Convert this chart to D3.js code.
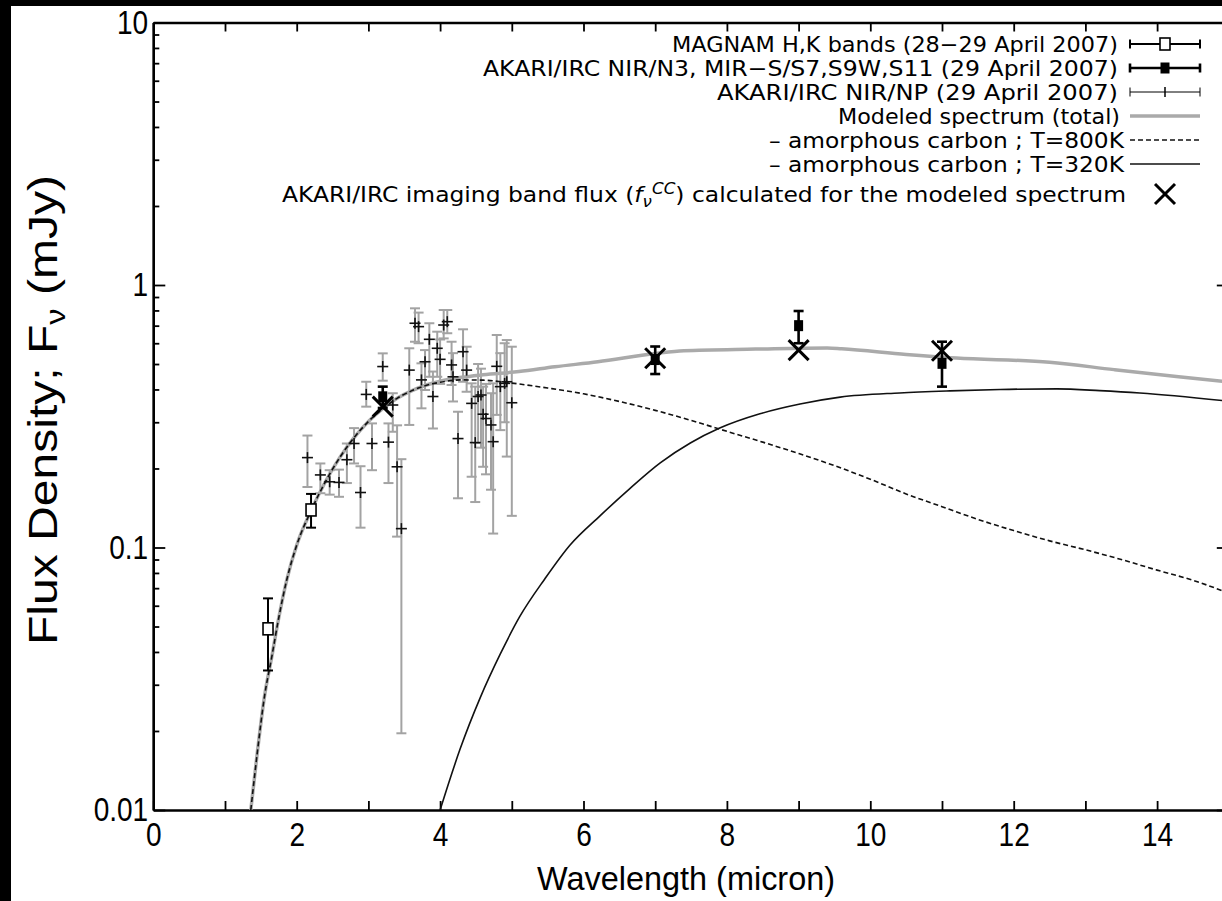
<!DOCTYPE html>
<html><head><meta charset="utf-8">
<script src="https://cdnjs.cloudflare.com/ajax/libs/d3/7.8.5/d3.min.js"></script>
<style>
html,body{margin:0;padding:0;background:#000;}
svg{display:block;}
</style></head>
<body>
<svg id="chart" width="1222" height="901"></svg>
<script>
// ---------- DATA ----------
const xTickValues = [0,1,2,3,4,5,6,7,8,9,10,11,12,13,14,15];
const xTickLabels = ["0","","2","","4","","6","","8","","10","","12","","14",""];
const yMajorTicks = [0.01, 0.1, 1, 10];
const yMajorLabels = ["0.01", "0.1", "1", "10"];

// AKARI/IRC NIR/NP spectroscopy (crosses with grey error bars)
const npLambda = [2.15,2.33,2.46,2.59,2.70,2.80,2.89,2.97,3.05,3.20,3.28,3.34,3.40,3.46,3.57,3.65,3.70,3.74,3.79,3.85,3.90,3.96,4.00,4.05,4.10,4.16,4.18,4.25,4.32,4.37,4.44,4.49,4.53,4.57,4.60,4.64,4.71,4.74,4.79,4.84,4.90,4.93,5.00];
const npFlux   = [0.220,0.189,0.178,0.177,0.216,0.249,0.162,0.383,0.249,0.489,0.252,0.349,0.203,0.118,0.474,0.715,0.694,0.435,0.510,0.621,0.376,0.574,0.521,0.704,0.725,0.496,0.447,0.260,0.557,0.474,0.354,0.251,0.376,0.381,0.322,0.310,0.293,0.253,0.490,0.410,0.422,0.428,0.356];
const npLo     = [0.170,0.161,0.159,0.156,0.176,0.209,0.119,0.344,0.197,0.432,0.176,0.276,0.110,0.0196,0.293,0.608,0.600,0.339,0.398,0.447,0.284,0.447,0.420,0.626,0.655,0.416,0.360,0.154,0.428,0.392,0.186,0.149,0.250,0.240,0.203,0.190,0.166,0.113,0.320,0.280,0.300,0.222,0.132];
const npHi     = [0.267,0.209,0.197,0.198,0.249,0.285,0.204,0.428,0.297,0.549,0.297,0.387,0.292,0.217,0.574,0.815,0.785,0.503,0.565,0.715,0.468,0.664,0.620,0.803,0.803,0.608,0.550,0.329,0.678,0.582,0.422,0.410,0.500,0.480,0.410,0.420,0.387,0.422,0.645,0.550,0.600,0.617,0.582];

// MAGNAM H,K bands (open squares)
const magLambda = [1.6, 2.2];
const magFlux   = [0.049, 0.139];
const magLo     = [0.034, 0.119];
const magHi     = [0.064, 0.160];

// AKARI/IRC imaging N3, S7, S9W, S11 (filled squares)
const akLambda = [3.2, 7.0, 9.0, 11.0];
const akFlux   = [0.375, 0.520, 0.700, 0.503];
const akLo     = [0.340, 0.458, 0.600, 0.410];
const akHi     = [0.410, 0.583, 0.796, 0.608];

// Colour-corrected model band fluxes (X marks)
const ccLambda = [3.2, 7.0, 9.0, 11.0];
const ccFlux   = [0.344, 0.526, 0.565, 0.562];

// Modeled spectrum (total)
const totLambda = [1.36,1.45,1.55,1.65,1.75,1.86,2.0,2.2,2.4,2.6,2.8,3.0,3.2,3.4,3.6,3.8,4.0,4.3,4.6,5.1,5.6,6.2,7.0,7.4,8.4,9.4,9.6,10.5,11.2,12.5,13.4,14.3,15.0];
const totFlux   = [0.010,0.0165,0.027,0.038,0.054,0.075,0.102,0.138,0.178,0.220,0.262,0.302,0.338,0.370,0.395,0.415,0.430,0.445,0.455,0.468,0.488,0.510,0.548,0.562,0.570,0.576,0.572,0.544,0.527,0.508,0.476,0.447,0.427];

// amorphous carbon T=800K
const c800Lambda = [1.36,1.45,1.55,1.65,1.75,1.86,2.0,2.2,2.4,2.6,2.8,3.0,3.2,3.4,3.6,3.8,4.0,4.3,4.6,5.0,5.5,6.0,6.5,7.0,7.5,8.0,8.5,9.0,9.5,10.0,10.5,11.0,11.5,12.0,12.5,13.0,13.5,14.0,14.5,15.0];
const c800Flux   = [0.010,0.0165,0.027,0.038,0.054,0.075,0.102,0.138,0.178,0.220,0.262,0.302,0.338,0.370,0.395,0.414,0.426,0.435,0.434,0.423,0.405,0.385,0.360,0.333,0.305,0.277,0.252,0.228,0.205,0.182,0.160,0.143,0.128,0.116,0.106,0.098,0.090,0.082,0.075,0.067];

// amorphous carbon T=320K
const c320Lambda = [4.0,4.28,4.56,4.84,5.11,5.46,5.81,6.23,6.65,7.07,7.49,7.9,8.46,9.02,9.58,10.41,11.11,11.81,12.6,13.2,13.76,15.0];
const c320Flux   = [0.010,0.0171,0.0268,0.0393,0.0545,0.0759,0.102,0.132,0.168,0.210,0.250,0.285,0.323,0.352,0.374,0.388,0.395,0.400,0.402,0.396,0.388,0.361];

const legendLabels = [
  "MAGNAM H,K bands (28\u221229 April 2007)",
  "AKARI/IRC NIR/N3, MIR\u2212S/S7,S9W,S11 (29 April 2007)",
  "AKARI/IRC NIR/NP (29 April 2007)",
  "Modeled spectrum (total)",
  "\u2013 amorphous carbon ; T=800K",
  "\u2013 amorphous carbon ; T=320K"
];

// ---------- LAYOUT ----------
const L = 153.3, R = 1228.8, T = 22.5, B = 810;
const svg = d3.select("#chart");
svg.append("rect").attr("x",11).attr("y",6).attr("width",1222).attr("height",901).attr("fill","#fff");

const x = d3.scaleLinear().domain([0,15]).range([L,R]);
const y = d3.scaleLog().domain([0.01,10]).range([B,T]);

const FONT = "'Liberation Sans', Arial, sans-serif";
const LFONT = "'DejaVu Sans', sans-serif";

const yMinor = [];
[0.01,0.1,1].forEach(d => { for (let k=2;k<=9;k++) yMinor.push(+(d*k).toPrecision(3)); });

svg.append("clipPath").attr("id","plotclip").append("rect")
  .attr("x",L).attr("y",T).attr("width",R-L).attr("height",B-T);

// ---------- AXES ----------
function styleAxis(g){
  g.selectAll("path.domain").attr("stroke","#000").attr("stroke-width",2.4);
  g.selectAll(".tick line").attr("stroke","#000").attr("stroke-width",1.8);
  g.selectAll(".tick text").attr("fill","#000").style("font-family",FONT).style("font-size","33px")
    .attr("transform","scale(0.85,1)");
}
const xAxis = d3.axisBottom(x).tickValues(xTickValues)
  .tickFormat((d,i)=>xTickLabels[i]).tickSize(-9).tickSizeOuter(0).tickPadding(13);
svg.append("g").attr("transform",`translate(0,${B})`).call(xAxis).call(styleAxis);
svg.append("g").attr("transform",`translate(0,${T})`)
  .call(d3.axisTop(x).tickValues(xTickValues).tickFormat("").tickSize(-9).tickSizeOuter(0)).call(styleAxis);

svg.append("g").attr("transform",`translate(${L},0)`)
  .call(d3.axisLeft(y).tickValues(yMajorTicks).tickFormat((d,i)=>yMajorLabels[i]).tickSize(-12).tickSizeOuter(0).tickPadding(6))
  .call(styleAxis);
svg.append("g").attr("transform",`translate(${L},0)`)
  .call(d3.axisLeft(y).tickValues(yMinor).tickFormat("").tickSize(-6).tickSizeOuter(0)).call(styleAxis);
svg.append("g").attr("transform",`translate(${R},0)`)
  .call(d3.axisRight(y).tickValues(yMajorTicks).tickFormat("").tickSize(-12).tickSizeOuter(0)).call(styleAxis);
svg.append("g").attr("transform",`translate(${R},0)`)
  .call(d3.axisRight(y).tickValues(yMinor).tickFormat("").tickSize(-6).tickSizeOuter(0)).call(styleAxis);

// titles
svg.append("text").attr("x",(L+R)/2 - 5).attr("y",890).attr("text-anchor","middle")
  .attr("textLength",298).attr("lengthAdjust","spacingAndGlyphs")
  .style("font-family",FONT).style("font-size","34px").text("Wavelength (micron)");
const yt = svg.append("text").attr("transform","translate(57,410) rotate(-90)").attr("text-anchor","middle")
  .attr("textLength",470).attr("lengthAdjust","spacingAndGlyphs")
  .style("font-family",FONT).style("font-size","40px");
yt.append("tspan").text("Flux Density; F");
yt.append("tspan").attr("dy",8).style("font-size","27px").text("\u03bd");
yt.append("tspan").attr("dy",-8).text(" (mJy)");

// ---------- MARKS ----------
const plot = svg.append("g").attr("clip-path","url(#plotclip)");
const line = d3.line().x(d=>x(d[0])).y(d=>y(d[1])).curve(d3.curveMonotoneX);

// NP error bars
const np = npLambda.map((l,i)=>({l, f:npFlux[i], lo:npLo[i], hi:npHi[i]}));
const npG = plot.append("g").attr("stroke","#a3a3a3").attr("stroke-width",2).attr("fill","none");
np.forEach(d=>{
  npG.append("line").attr("x1",x(d.l)).attr("x2",x(d.l)).attr("y1",y(d.lo)).attr("y2",y(d.hi));
  [d.lo,d.hi].forEach(v=>npG.append("line").attr("x1",x(d.l)-5).attr("x2",x(d.l)+5).attr("y1",y(v)).attr("y2",y(v)));
});

// model lines
plot.append("path").datum(totLambda.map((l,i)=>[l,totFlux[i]])).attr("d",line)
  .attr("fill","none").attr("stroke","#aaaaaa").attr("stroke-width",3.5);
plot.append("path").datum(c800Lambda.map((l,i)=>[l,c800Flux[i]])).attr("d",line)
  .attr("fill","none").attr("stroke","#111").attr("stroke-width",1.6).attr("stroke-dasharray","5,3");
plot.append("path").datum(c320Lambda.map((l,i)=>[l,c320Flux[i]])).attr("d",line)
  .attr("fill","none").attr("stroke","#111").attr("stroke-width",1.6);

// NP crosses
const npC = plot.append("g").attr("stroke","#111").attr("stroke-width",1.6);
np.forEach(d=>{
  npC.append("line").attr("x1",x(d.l)-5.5).attr("x2",x(d.l)+5.5).attr("y1",y(d.f)).attr("y2",y(d.f));
  npC.append("line").attr("x1",x(d.l)).attr("x2",x(d.l)).attr("y1",y(d.f)-5.5).attr("y2",y(d.f)+5.5);
});

// MAGNAM
const magG = plot.append("g").attr("stroke","#000").attr("stroke-width",2);
magLambda.forEach((l,i)=>{
  const cx = x(l);
  magG.append("line").attr("x1",cx).attr("x2",cx).attr("y1",y(magLo[i])).attr("y2",y(magHi[i]));
  [magLo[i],magHi[i]].forEach(v=>magG.append("line").attr("x1",cx-5).attr("x2",cx+5).attr("y1",y(v)).attr("y2",y(v)));
  magG.append("rect").attr("x",cx-5).attr("y",y(magFlux[i])-6).attr("width",10).attr("height",12)
    .attr("fill","#fff").attr("stroke-width",1.6);
});

// AKARI imaging
const akG = plot.append("g").attr("stroke","#000").attr("stroke-width",2.6);
akLambda.forEach((l,i)=>{
  const cx = x(l);
  akG.append("line").attr("x1",cx).attr("x2",cx).attr("y1",y(akLo[i])).attr("y2",y(akHi[i]));
  [akLo[i],akHi[i]].forEach(v=>akG.append("line").attr("x1",cx-5).attr("x2",cx+5).attr("y1",y(v)).attr("y2",y(v)));
  akG.append("rect").attr("x",cx-4.5).attr("y",y(akFlux[i])-5.5).attr("width",9).attr("height",11)
    .attr("fill","#000").attr("stroke","none");
});

// X marks
const ccG = plot.append("g").attr("stroke","#000").attr("stroke-width",3);
ccLambda.forEach((l,i)=>{
  const cx = x(l), cy = y(ccFlux[i]), s = 10;
  ccG.append("line").attr("x1",cx-s).attr("x2",cx+s).attr("y1",cy-s).attr("y2",cy+s);
  ccG.append("line").attr("x1",cx-s).attr("x2",cx+s).attr("y1",cy+s).attr("y2",cy-s);
});

// ---------- LEGEND ----------
const rowsY = [44, 68, 92, 116, 140, 164, 194];
const textStart = [672, 483, 717, 838, 769, 769];
const textEnd   = [1118, 1118, 1118, 1120, 1124, 1124];
const sx1 = 1130, sx2 = 1200, smid = 1165;
const lg = svg.append("g");
legendLabels.forEach((t,i)=>{
  lg.append("text").attr("x",textEnd[i]).attr("y",rowsY[i]).attr("dy","0.36em").attr("text-anchor","end")
    .attr("textLength",textEnd[i]-textStart[i]).attr("lengthAdjust","spacingAndGlyphs")
    .style("font-family",LFONT).style("font-size","21px").text(t);
});
// row 7
const r7 = lg.append("text").attr("x",1126).attr("y",rowsY[6]).attr("dy","0.36em").attr("text-anchor","end")
  .attr("textLength",1126-282).attr("lengthAdjust","spacingAndGlyphs")
  .style("font-family",LFONT).style("font-size","21px");
r7.append("tspan").text("AKARI/IRC imaging band flux (");
r7.append("tspan").style("font-style","italic").text("f");
r7.append("tspan").attr("dy",5).style("font-size","15px").style("font-style","italic").text("\u03bd");
r7.append("tspan").attr("dy",-13).style("font-size","15px").style("font-style","italic").text("CC");
r7.append("tspan").attr("dy",8).text(") calculated for the modeled spectrum");

// samples
function errH(yy, w){
  lg.append("line").attr("x1",sx1).attr("x2",sx2).attr("y1",yy).attr("y2",yy).attr("stroke","#000").attr("stroke-width",w);
  [sx1,sx2].forEach(xx=>lg.append("line").attr("x1",xx).attr("x2",xx).attr("y1",yy-4.5).attr("y2",yy+4.5).attr("stroke","#000").attr("stroke-width",w));
}
errH(rowsY[0],2);
lg.append("rect").attr("x",smid-5).attr("y",rowsY[0]-6).attr("width",10).attr("height",12).attr("fill","#fff").attr("stroke","#000").attr("stroke-width",1.6);
errH(rowsY[1],2.6);
lg.append("rect").attr("x",smid-4.5).attr("y",rowsY[1]-5.5).attr("width",9).attr("height",11).attr("fill","#000");
errH(rowsY[2],1);
lg.append("line").attr("x1",smid).attr("x2",smid).attr("y1",rowsY[2]-5).attr("y2",rowsY[2]+5).attr("stroke","#000").attr("stroke-width",1.5);
lg.append("line").attr("x1",sx1).attr("x2",sx2).attr("y1",rowsY[3]).attr("y2",rowsY[3]).attr("stroke","#aaa").attr("stroke-width",3.5);
lg.append("line").attr("x1",sx1).attr("x2",sx2).attr("y1",rowsY[4]).attr("y2",rowsY[4]).attr("stroke","#111").attr("stroke-width",1.5).attr("stroke-dasharray","5,3");
lg.append("line").attr("x1",sx1).attr("x2",sx2).attr("y1",rowsY[5]).attr("y2",rowsY[5]).attr("stroke","#111").attr("stroke-width",1.5);
[[-10,-10,10,10],[-10,10,10,-10]].forEach(a=>lg.append("line")
  .attr("x1",smid+a[0]).attr("y1",rowsY[6]+a[1]).attr("x2",smid+a[2]).attr("y2",rowsY[6]+a[3]).attr("stroke","#000").attr("stroke-width",3));
</script>
</body></html>
